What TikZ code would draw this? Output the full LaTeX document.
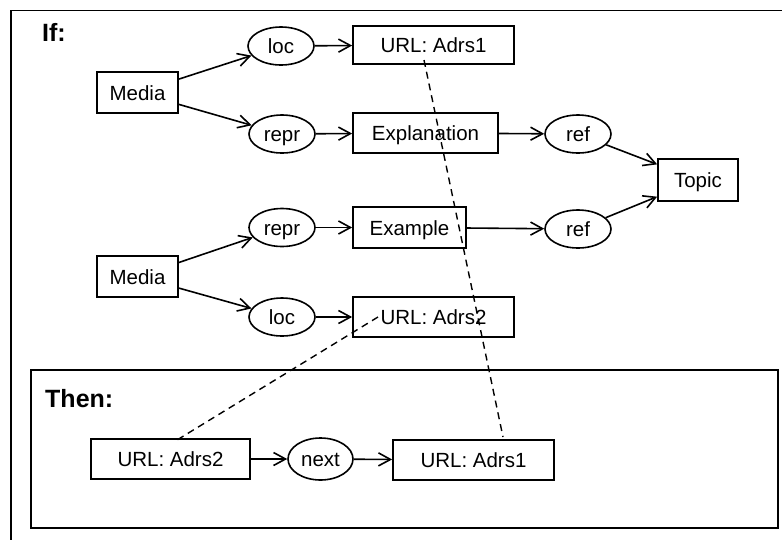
\documentclass[tikz,border=0pt]{standalone}
\usepackage{fontspec}
\setmainfont{Liberation Sans}
\usetikzlibrary{arrows.meta,shapes.geometric,calc}
\begin{document}
\begin{tikzpicture}[x=1pt,y=-1pt,
  every node/.style={font=\fontsize{20.5}{24}\selectfont},
  box/.style={draw,line width=1.7pt,inner sep=0pt,minimum height=40pt,text height=15pt,text depth=0pt},
  oval/.style={draw,ellipse,line width=1.6pt,inner sep=0pt,minimum width=66pt,minimum height=38pt,text height=15pt,text depth=0pt},
  link/.style={line width=1.6pt,-{Straight Barb[length=12pt,width=13pt,line width=1.6pt]}},
  dashlink/.style={line width=1.4pt,dash pattern=on 7pt off 5pt},
  frame/.style={draw,line width=1.8pt},
  title/.style={font=\fontsize{25}{28}\selectfont\bfseries,anchor=base west,inner sep=0pt}]
\useasboundingbox (0,0) rectangle (782,539);
\clip (0,0) rectangle (782,539);
% frames
\draw[frame] (11,10.5) rectangle (800,560);
\draw[frame] (31,370) rectangle (778,528);
\node[title] (iflbl) at (42,41) {If:};
\node[title] (thenlbl) at (45,407) {Then:};
% upper graph
\node[box,minimum width=81pt,minimum height=41pt] (media1) at (137.5,92.5) {Media};
\node[oval] (loc1) at (281,46) {loc};
\node[oval] (repr1) at (282,134) {repr};
\node[box,minimum width=161pt,minimum height=38pt] (u1) at (433.5,45) {URL: Adrs1};
\node[box,minimum width=145pt] (expl) at (425.5,133) {Explanation};
\node[oval] (ref1) at (578,134) {ref};
\node[box,minimum width=80pt,minimum height=42pt] (topic) at (698,180) {Topic};
\node[oval] (repr2) at (282,227.5) {repr};
\node[box,minimum width=113pt,minimum height=41pt] (ex) at (409.5,227.5) {Example};
\node[oval] (ref2) at (578,229) {ref};
\node[box,minimum width=81pt,minimum height=41pt] (media2) at (137.5,276.5) {Media};
\node[oval] (loc2) at (282,317) {loc};
\node[box,minimum width=161pt] (u2) at (433.5,317) {URL: Adrs2};
% lower graph
\node[box,minimum width=159pt] (bu2) at (170.5,459) {URL: Adrs2};
\node[oval,minimum width=65pt,minimum height=42pt] (next) at (320.5,459) {next};
\node[box,minimum width=161pt] (bu1) at (473.5,460) {URL: Adrs1};
% connectors
\draw[link] (media1) -- (loc1);
\draw[link] (media1) -- (repr1);
\draw[link] (loc1) -- (u1);
\draw[link] (repr1) -- (expl);
\draw[link] (expl) -- (ref1);
\draw[link] (ref1) -- (topic);
\draw[link] (media2) -- (repr2);
\draw[link] (media2) -- (loc2);
\draw[link] (repr2) -- (ex);
\draw[link] (ex) -- (ref2);
\draw[link] (ref2) -- (topic);
\draw[link] (loc2) -- (u2);
\draw[link] (bu2) -- (next);
\draw[link] (next) -- (bu1);
% dashed correspondences
\coordinate (d1a) at ($(u1)+(-9.5,15)$);
\coordinate (d1b) at ($(bu1)+(29.5,-23)$);
\coordinate (d2a) at ($(u2)+(-55.5,0)$);
\coordinate (d2b) at ($(bu2)+(6.5,-19)$);
\draw[dashlink] (d1a) -- (d1b);
\draw[dashlink] (d2a) -- (d2b);
\end{tikzpicture}
\end{document}
